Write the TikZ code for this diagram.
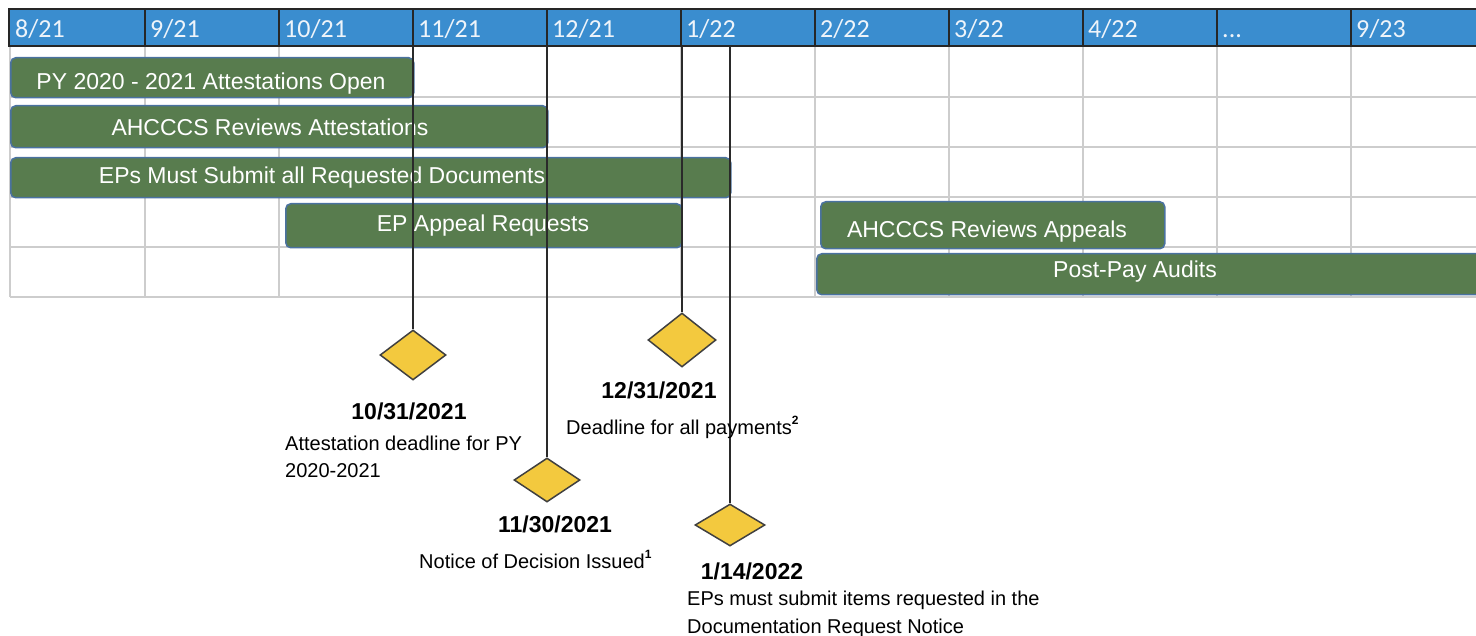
\documentclass[tikz,border=0pt]{standalone}
\usepackage{fontspec}
\setmainfont{Liberation Sans}
\newfontfamily\hdrfont{Carlito}
\usetikzlibrary{shapes.geometric}
\definecolor{hdrblue}{HTML}{3A8DCF}
\definecolor{bargreen}{HTML}{587C4E}
\definecolor{barblue}{HTML}{4A72A0}
\definecolor{gridgray}{HTML}{CDCDCD}
\definecolor{msyellow}{HTML}{F3C93E}
\definecolor{msedge}{HTML}{404040}
\definecolor{stemcol}{HTML}{2A2A2A}
\definecolor{hdrtext}{HTML}{EEF4FA}
\begin{document}
\begin{tikzpicture}[x=1pt,y=-1pt,
  gridline/.style={draw=gridgray,line width=1.6pt},
  hdrline/.style={draw=black!85,line width=2pt},
  hdrlabel/.style={anchor=base west,inner sep=0pt,text=hdrtext,font=\hdrfont\fontsize{26}{26}\selectfont},
  barbox/.style={anchor=north west,draw=barblue,fill=bargreen,line width=1.5pt,rounded corners=5pt,inner sep=0pt},
  bartext/.style={anchor=base,inner sep=0pt,text=white,font=\fontsize{23}{23}\selectfont},
  stem/.style={draw=stemcol,line width=1.8pt},
  milestone/.style={diamond,draw=msedge,fill=msyellow,line width=1.5pt,inner sep=0pt},
  datelabel/.style={anchor=base,inner sep=0pt,font=\bfseries\fontsize{23}{23}\selectfont},
  desc/.style={anchor=base west,inner sep=0pt,font=\fontsize{20}{20}\selectfont}
]
\useasboundingbox (0,0) rectangle (1476,636);
\fill[white] (0,0) rectangle (1476,636);

% grid
\foreach \gx in {10,145,279,413,547,681,815,949,1083,1217,1351}
  \draw[gridline] (\gx,46) -- (\gx,297);
\foreach \gy in {97,147,197,247,297}
  \draw[gridline] (10,\gy) -- (1480,\gy);

% header
\fill[hdrblue] (9,9) rectangle (1480,46);
\draw[hdrline] (1480,9) -- (9,9) -- (9,46) -- (1480,46);
\foreach \gx in {145,279,413,547,681,815,949,1083,1217,1351}
  \draw[hdrline] (\gx,9) -- (\gx,46);
\node[hdrlabel] (h1) at (15,38) {8/21};
\node[hdrlabel] (h2) at (150,38) {9/21};
\node[hdrlabel] (h3) at (284,38) {10/21};
\node[hdrlabel] (h4) at (418,38) {11/21};
\node[hdrlabel] (h5) at (552,38) {12/21};
\node[hdrlabel] (h6) at (686,38) {1/22};
\node[hdrlabel] (h7) at (820,38) {2/22};
\node[hdrlabel] (h8) at (954,38) {3/22};
\node[hdrlabel] (h9) at (1088,38) {4/22};
\node[hdrlabel] (h10) at (1222,38) {...};
\node[hdrlabel] (h11) at (1356,38) {9/23};

% bars
\node[barbox,minimum width=403pt,minimum height=40pt] (b1) at (10,57) {};
\node[barbox,minimum width=537pt,minimum height=42pt] (b2) at (10,105) {};
\node[barbox,minimum width=720pt,minimum height=40pt] (b3) at (10,157) {};
\node[barbox,minimum width=396pt,minimum height=44pt] (b4) at (285,203) {};
\node[barbox,minimum width=344pt,minimum height=47pt] (b5) at (820,201) {};
\node[barbox,minimum width=700pt,minimum height=41pt] (b6) at (816,253) {};
\node[bartext] (t1) at (211,90) {PY 2020 - 2021 Attestations Open};
\node[bartext] (t2) at (270,136) {AHCCCS Reviews Attestations};
\node[bartext] (t3) at (322,184) {EPs Must Submit all Requested Documents};
\node[bartext] (t4) at (483,232) {EP Appeal Requests};
\node[bartext] (t5) at (987,238) {AHCCCS Reviews Appeals};
\node[bartext] (t6) at (1135,278) {Post-Pay Audits};

% milestones
\node[milestone,minimum width=66pt,minimum height=50pt] (d1) at (413,355) {};
\node[milestone,minimum width=66pt,minimum height=44pt] (d2) at (547,480) {};
\node[milestone,minimum width=68pt,minimum height=54pt] (d3) at (682,340) {};
\node[milestone,minimum width=70pt,minimum height=42pt] (d4) at (730,525) {};

\coordinate (c1) at (413,46);
\coordinate (c2) at (547,46);
\coordinate (c3) at (682,46);
\coordinate (c4) at (730,46);
\draw[stem] (c1) -- (d1.north);
\draw[stem] (c2) -- (d2.north);
\draw[stem] (c3) -- (d3.north);
\draw[stem] (c4) -- (d4.north);

% milestone labels
\node[datelabel] (l1) at (409,420) {10/31/2021};
\node[desc] (l1a) at (285,450) {Attestation deadline for PY};
\node[desc] (l1b) at (285,477) {2020-2021};
\node[datelabel] (l3) at (659,399) {12/31/2021};
\node[desc] (l3a) at (566,435) {Deadline for all payments\raisebox{10pt}{\bfseries\fontsize{12}{12}\selectfont 2}};
\node[datelabel] (l2) at (555,532) {11/30/2021};
\node[desc] (l2a) at (419,568) {Notice of Decision Issued\raisebox{10pt}{\bfseries\fontsize{12}{12}\selectfont 1}};
\node[datelabel] (l4) at (752,579) {1/14/2022};
\node[desc] (l4a) at (687,605) {EPs must submit items requested in the};
\node[desc] (l4b) at (687,633) {Documentation Request Notice};
\end{tikzpicture}
\end{document}
